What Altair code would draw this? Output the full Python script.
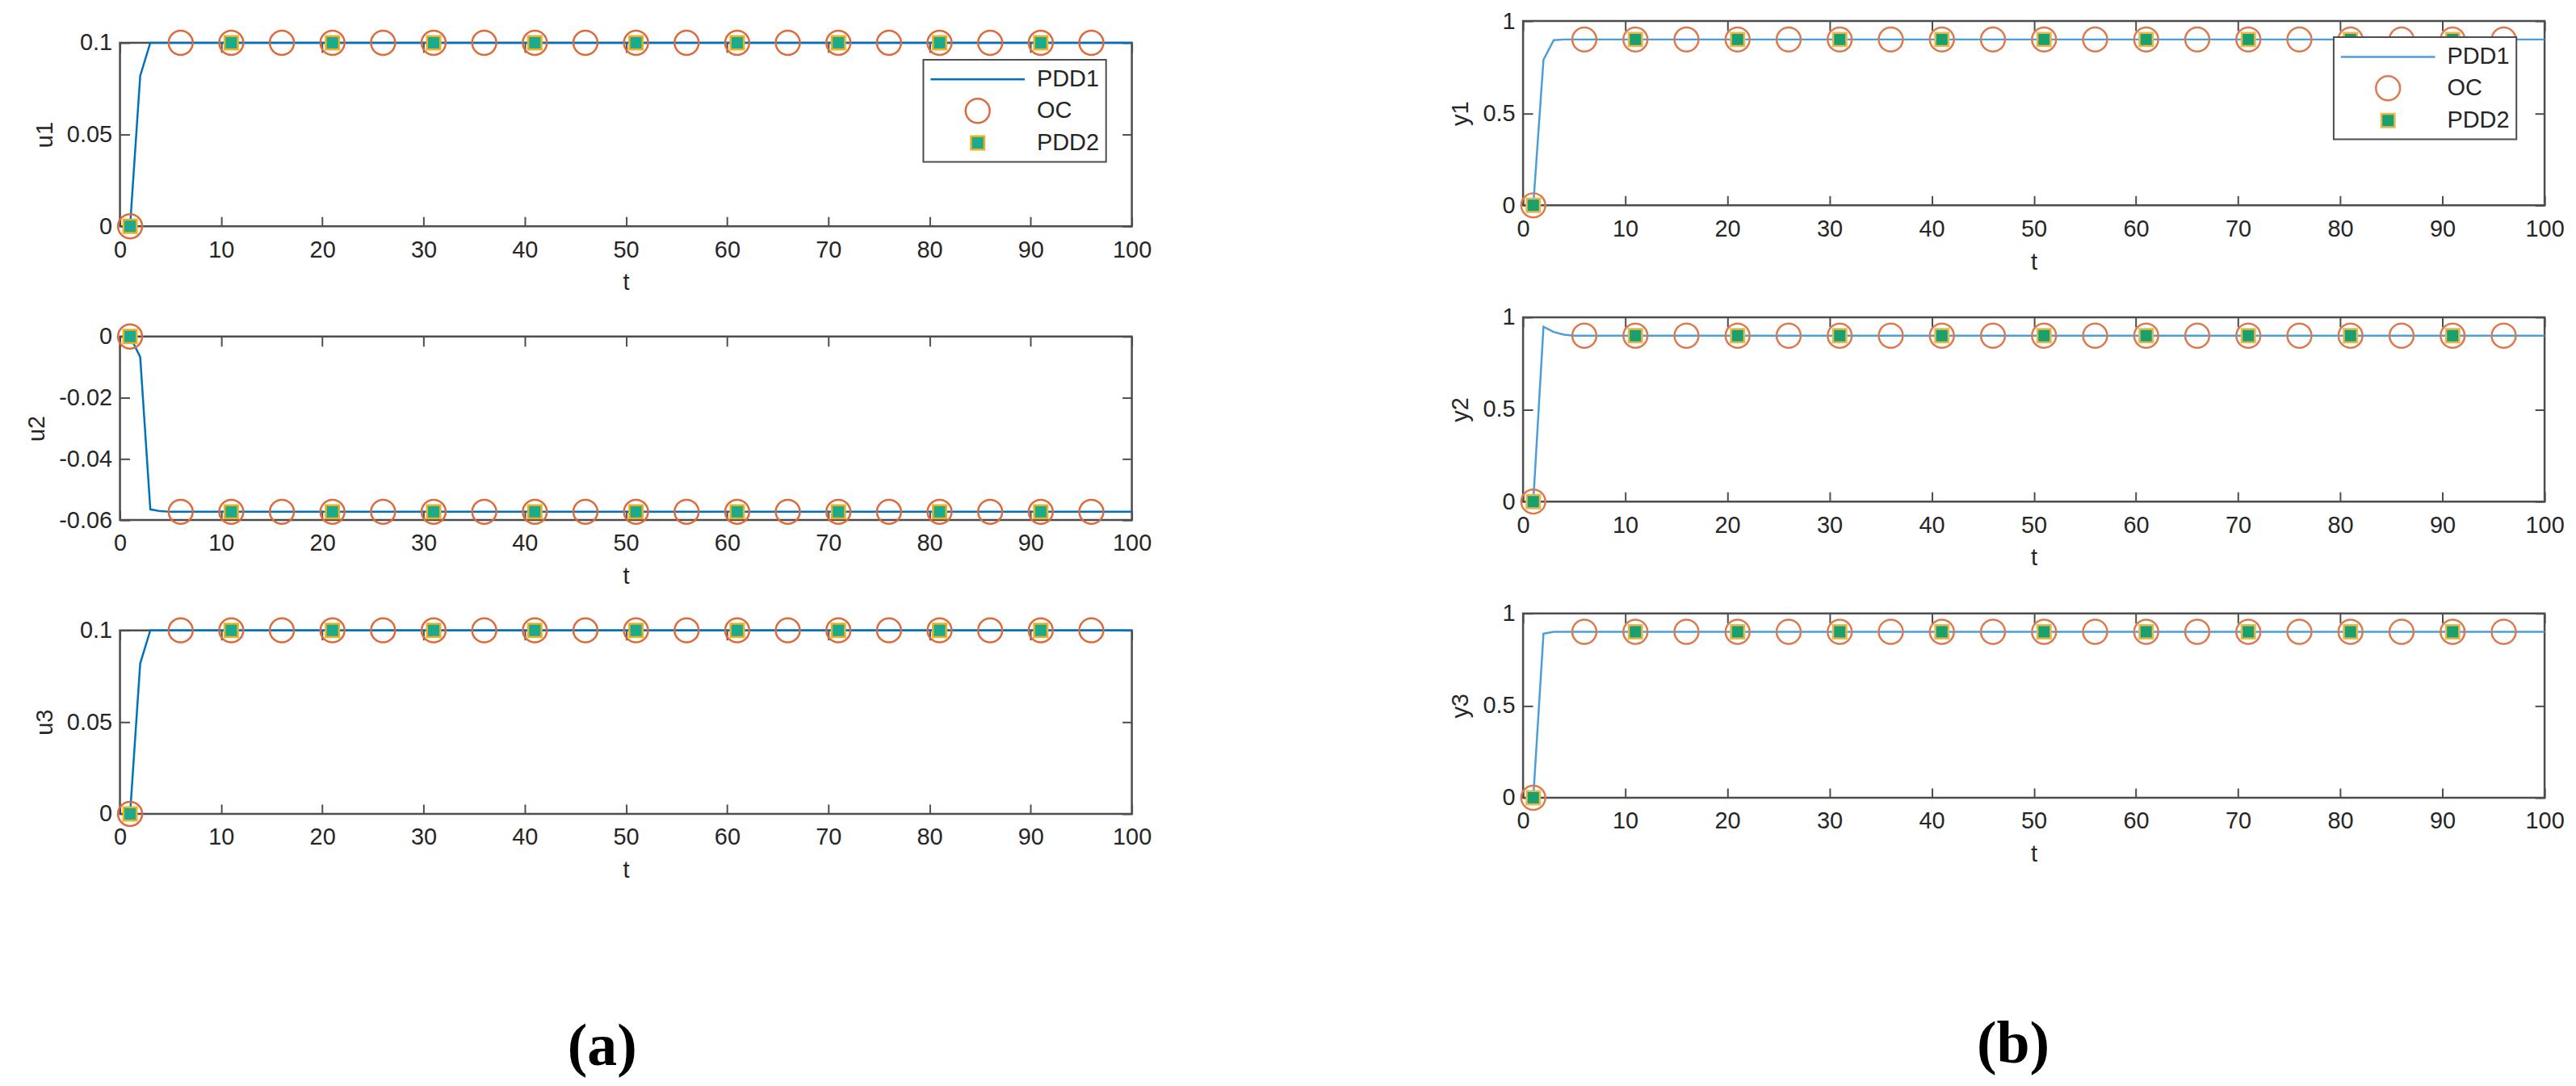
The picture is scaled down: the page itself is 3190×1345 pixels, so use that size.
import altair as alt
import pandas as pd

# ---------------- data ----------------
T_TICKS = [0, 10, 20, 30, 40, 50, 60, 70, 80, 90, 100]

# PDD1 line (knots; the line is flat after t = 5)
t_line = [1, 2, 3, 4, 5, 100]
u1_line = [0.0, 0.082, 0.1, 0.1, 0.1, 0.1]
u2_line = [0.0, -0.0067, -0.0565, -0.0571, -0.0573, -0.0573]
u3_line = [0.0, 0.082, 0.1, 0.1, 0.1, 0.1]
y1_line = [0.0, 0.79, 0.896, 0.9, 0.9, 0.9]
y2_line = [0.0, 0.948, 0.92, 0.905, 0.9, 0.9]
y3_line = [0.0, 0.89, 0.9, 0.9, 0.9, 0.9]

# OC markers
t_oc = [1, 6, 11, 16, 21, 26, 31, 36, 41, 46, 51, 56, 61, 66, 71, 76, 81, 86, 91, 96]
u1_oc = [0.0, 0.1, 0.1, 0.1, 0.1, 0.1, 0.1, 0.1, 0.1, 0.1, 0.1, 0.1, 0.1, 0.1, 0.1, 0.1, 0.1, 0.1, 0.1, 0.1]
u2_oc = [0.0, -0.0573, -0.0573, -0.0573, -0.0573, -0.0573, -0.0573, -0.0573, -0.0573, -0.0573,
         -0.0573, -0.0573, -0.0573, -0.0573, -0.0573, -0.0573, -0.0573, -0.0573, -0.0573, -0.0573]
u3_oc = [0.0, 0.1, 0.1, 0.1, 0.1, 0.1, 0.1, 0.1, 0.1, 0.1, 0.1, 0.1, 0.1, 0.1, 0.1, 0.1, 0.1, 0.1, 0.1, 0.1]
y1_oc = [0.0, 0.9, 0.9, 0.9, 0.9, 0.9, 0.9, 0.9, 0.9, 0.9, 0.9, 0.9, 0.9, 0.9, 0.9, 0.9, 0.9, 0.9, 0.9, 0.9]
y2_oc = [0.0, 0.9, 0.9, 0.9, 0.9, 0.9, 0.9, 0.9, 0.9, 0.9, 0.9, 0.9, 0.9, 0.9, 0.9, 0.9, 0.9, 0.9, 0.9, 0.9]
y3_oc = [0.0, 0.9, 0.9, 0.9, 0.9, 0.9, 0.9, 0.9, 0.9, 0.9, 0.9, 0.9, 0.9, 0.9, 0.9, 0.9, 0.9, 0.9, 0.9, 0.9]

# PDD2 markers
t_p2 = [1, 11, 21, 31, 41, 51, 61, 71, 81, 91]
u1_p2 = [0.0, 0.1, 0.1, 0.1, 0.1, 0.1, 0.1, 0.1, 0.1, 0.1]
u2_p2 = [0.0, -0.0573, -0.0573, -0.0573, -0.0573, -0.0573, -0.0573, -0.0573, -0.0573, -0.0573]
u3_p2 = [0.0, 0.1, 0.1, 0.1, 0.1, 0.1, 0.1, 0.1, 0.1, 0.1]
y1_p2 = [0.0, 0.9, 0.9, 0.9, 0.9, 0.9, 0.9, 0.9, 0.9, 0.9]
y2_p2 = [0.0, 0.9, 0.9, 0.9, 0.9, 0.9, 0.9, 0.9, 0.9, 0.9]
y3_p2 = [0.0, 0.9, 0.9, 0.9, 0.9, 0.9, 0.9, 0.9, 0.9, 0.9]

U_TICKS_POS = [0, 0.05, 0.1]
U_TICKS_NEG = [-0.06, -0.04, -0.02, 0]
Y_TICKS = [0, 0.5, 1]

SERIES = ["PDD1", "OC", "PDD2"]
SHAPES = ["M-3.9,0H3.9", "circle", "M-0.55,-0.55H0.55V0.55H-0.55Z"]

FONT = "Liberation Sans"
TXT = "#262626"
BOX = "#4d4d4d"
TICK = 12
IND = dict(shape="independent", stroke="independent", fill="independent")


def panel(tl, vl, to, vo, tp, vp, ylab, ydom, yticks, w, h, line_color,
          oc_color, sq_fill, sq_edge, legend_pos=None):
    df_line = pd.DataFrame({"t": tl, "v": vl})
    df_oc = pd.DataFrame({"t": to, "v": vo, "s": ["OC"] * len(to)})
    df_p2 = pd.DataFrame({"t": tp, "v": vp, "s": ["PDD2"] * len(tp)})

    xs = alt.Scale(domain=[0, 100], nice=False, zero=False)
    ys = alt.Scale(domain=ydom, nice=False, zero=False)

    ax_b = alt.Axis(orient="bottom", values=T_TICKS, title="t", offset=-TICK,
                    tickSize=TICK, domain=False, grid=False, labelPadding=15,
                    titlePadding=12, labelFlush=False, labelOverlap=False)
    ax_t = alt.Axis(orient="top", values=T_TICKS, title=None, labels=False,
                    offset=-TICK, tickSize=TICK, domain=False, grid=False)
    ax_l = alt.Axis(orient="left", values=yticks, title=ylab, offset=-TICK,
                    tickSize=TICK, domain=False, grid=False, labelPadding=10,
                    titlePadding=12, labelExpr="'' + datum.value", labelOverlap=False)
    ax_r = alt.Axis(orient="right", values=yticks, title=None, labels=False,
                    offset=-TICK, tickSize=TICK, domain=False, grid=False)

    if legend_pos is not None:
        leg = alt.Legend(title=None, orient="none", legendX=legend_pos[0],
                         legendY=legend_pos[1])
    else:
        leg = None

    shape = alt.Shape("s:N", scale=alt.Scale(domain=SERIES, range=SHAPES), legend=leg)
    stroke = alt.Stroke("s:N", scale=alt.Scale(domain=SERIES,
                        range=[line_color, oc_color, sq_edge]), legend=leg)
    fill = alt.Fill("s:N", scale=alt.Scale(domain=SERIES,
                    range=["transparent", "transparent", sq_fill]), legend=leg)

    line = alt.Chart(df_line).mark_line(color=line_color, strokeWidth=2.5).encode(
        x=alt.X("t:Q", scale=xs, axis=ax_b),
        y=alt.Y("v:Q", scale=ys, axis=ax_l),
    )
    oc = alt.Chart(df_oc).mark_point(size=900, strokeWidth=2.5, opacity=1).encode(
        x=alt.X("t:Q", scale=xs, axis=None),
        y=alt.Y("v:Q", scale=ys, axis=None),
        shape=shape, stroke=stroke, fill=fill,
    )
    p2 = alt.Chart(df_p2).mark_point(size=900, strokeWidth=2.5, opacity=1).encode(
        x=alt.X("t:Q", scale=xs, axis=ax_t),
        y=alt.Y("v:Q", scale=ys, axis=ax_r),
        shape=shape, stroke=stroke, fill=fill,
    )
    return alt.layer(line, oc, p2).resolve_axis(x="independent", y="independent").properties(
        width=w, height=h)


LW, LH = 1257, 228
RW, RH = 1269, 229

L_LINE, L_OC, L_FILL, L_EDGE = "#0072BD", "#DD6A3C", "#1BAA8C", "#EDB120"
R_LINE, R_OC, R_FILL, R_EDGE = "#4A9FD8", "#DC7A4E", "#1AA06E", "#E8B84A"

# blank strip above column (a): in the figure, column (a) starts lower than column (b)
strip = alt.Chart(pd.DataFrame({"k": [0]})).mark_text(text="").encode(
    x=alt.value(0), y=alt.value(0)
).properties(width=LW, height=27, view=alt.ViewBackground(stroke="transparent"))

left_panels = alt.vconcat(
    panel(t_line, u1_line, t_oc, u1_oc, t_p2, u1_p2, "u1", [0, 0.1], U_TICKS_POS,
          LW, LH, L_LINE, L_OC, L_FILL, L_EDGE, legend_pos=(998, 21)),
    panel(t_line, u2_line, t_oc, u2_oc, t_p2, u2_p2, "u2", [-0.06, 0], U_TICKS_NEG,
          LW, LH, L_LINE, L_OC, L_FILL, L_EDGE),
    panel(t_line, u3_line, t_oc, u3_oc, t_p2, u3_p2, "u3", [0, 0.1], U_TICKS_POS,
          LW, LH, L_LINE, L_OC, L_FILL, L_EDGE),
    spacing=137, bounds="flush",
).resolve_scale(**IND)

left = alt.vconcat(
    strip, left_panels, spacing=0, bounds="flush",
    title=alt.TitleParams("(a)", orient="bottom", anchor="middle", font="Liberation Serif",
                          fontSize=74, fontWeight="bold", color="black", offset=168, dx=17),
).resolve_scale(**IND)

right = alt.vconcat(
    panel(t_line, y1_line, t_oc, y1_oc, t_p2, y1_p2, "y1", [0, 1], Y_TICKS,
          RW, RH, R_LINE, R_OC, R_FILL, R_EDGE, legend_pos=(1007, 20)),
    panel(t_line, y2_line, t_oc, y2_oc, t_p2, y2_p2, "y2", [0, 1], Y_TICKS,
          RW, RH, R_LINE, R_OC, R_FILL, R_EDGE),
    panel(t_line, y3_line, t_oc, y3_oc, t_p2, y3_p2, "y3", [0, 1], Y_TICKS,
          RW, RH, R_LINE, R_OC, R_FILL, R_EDGE),
    spacing=139, bounds="flush",
    title=alt.TitleParams("(b)", orient="bottom", anchor="middle", font="Liberation Serif",
                          fontSize=74, fontWeight="bold", color="black", offset=185, dx=8),
).resolve_scale(**IND)

chart = alt.hconcat(left, right, spacing=367).resolve_scale(**IND).properties(
    padding={"left": 22, "top": 0, "right": 5, "bottom": 5},
    background="white",
).configure_view(
    stroke=BOX, strokeWidth=2.5
).configure_axis(
    labelFont=FONT, labelFontSize=29, labelColor=TXT,
    titleFont=FONT, titleFontSize=29, titleFontWeight="normal", titleColor=TXT,
    tickColor=BOX, tickWidth=2,
).configure_legend(
    labelFont=FONT, labelFontSize=29, labelColor=TXT,
    strokeColor=BOX, strokeWidth=2, fillColor="white", padding=8,
    rowPadding=3, symbolSize=900, symbolStrokeWidth=2.5,
    symbolOffset=43, labelOffset=57, cornerRadius=0,
)

chart.save("out.html", embed_options={"renderer": "svg", "actions": False})
